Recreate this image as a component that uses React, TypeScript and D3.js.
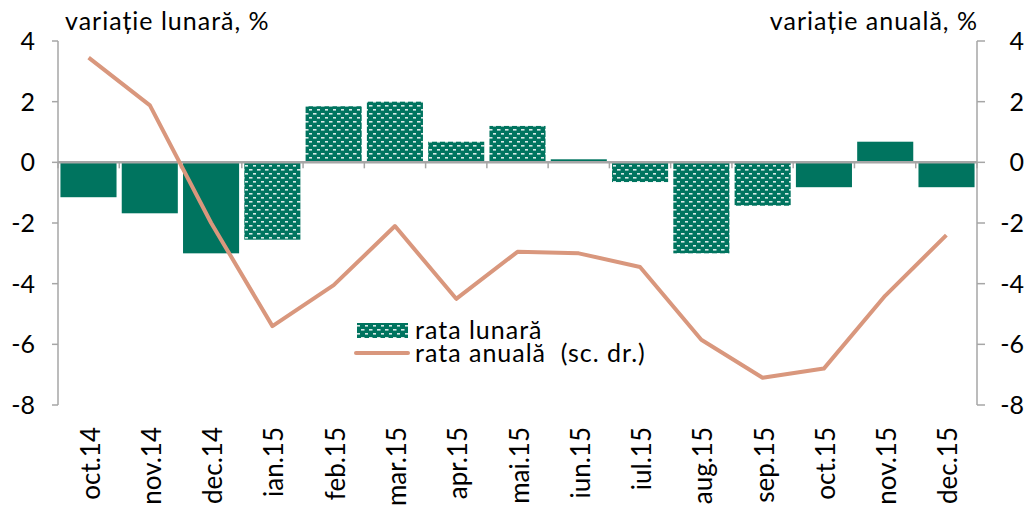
import React from "react";
import * as d3 from "d3";

const categories = ["oct.14","nov.14","dec.14","ian.15","feb.15","mar.15","apr.15","mai.15","iun.15","iul.15","aug.15","sep.15","oct.15","nov.15","dec.15"];
const monthlyRate = [-1.15, -1.68, -3.0, -2.55, 1.85, 2.0, 0.68, 1.2, 0.1, -0.65, -3.0, -1.43, -0.82, 0.68, -0.82];
const patterned = [false, false, false, true, true, true, true, true, true, true, true, true, false, false, false];
const annualRate = [3.45, 1.88, -2.0, -5.4, -4.05, -2.1, -4.5, -2.95, -3.0, -3.45, -5.85, -7.1, -6.8, -4.4, -2.4];
const leftTicks = [4, 2, 0, -2, -4, -6, -8];
const rightTicks = [4, 2, 0, -2, -4, -6, -8];

const W = 1034, H = 512;
const left = 58, right = 977, top = 41, bottom = 405;
const TEAL = "#00745F";
const SALMON = "#D9977D";
const AXIS = "#A6A6A6";
const FONT = "Lato, 'Open Sans', sans-serif";

export default function App() {
  const x = d3.scaleBand<string>().domain(categories).range([left, right]).paddingInner(0.085).paddingOuter(0.04);
  const xOuter = d3.scaleBand<string>().domain(categories).range([left, right]);
  const yL = d3.scaleLinear().domain([-8, 4]).range([bottom, top]);
  const yR = d3.scaleLinear().domain([-8, 4]).range([bottom, top]);
  const line = d3.line<number>()
    .x((_, i) => (xOuter(categories[i]) as number) + xOuter.bandwidth() / 2)
    .y((d) => yR(d));

  return (
    <svg width={W} height={H} style={{ position: "absolute", left: 0, top: 0, background: "#fff" }}>
      <defs>
        <pattern id="dots" patternUnits="userSpaceOnUse" width="8" height="8">
          <rect width="8" height="8" fill={TEAL} />
          <rect x="1" y="1" width="3.5" height="1.6" fill="#ffffff" opacity="0.85" />
          <rect x="5" y="5" width="3.5" height="1.6" fill="#ffffff" opacity="0.85" />
        </pattern>
      </defs>
      {/* bars */}
      {monthlyRate.map((v, i) => {
        const c = categories[i];
        const y0 = yL(0), y1 = yL(v);
        return (
          <rect key={c} x={x(c)} width={x.bandwidth()} y={Math.min(y0, y1)} height={Math.abs(y1 - y0)}
            fill={patterned[i] ? "url(#dots)" : TEAL} />
        );
      })}
      {/* axes */}
      <line x1={left} x2={left} y1={top} y2={bottom} stroke={AXIS} strokeWidth={1.5} />
      <line x1={right} x2={right} y1={top} y2={bottom} stroke={AXIS} strokeWidth={1.5} />
      {leftTicks.map((t) => (
        <g key={"l" + t}>
          <line x1={left - 6} x2={left} y1={yL(t)} y2={yL(t)} stroke={AXIS} strokeWidth={1.5} />
          <text x={35} y={yL(t)} dy="0.36em" textAnchor="end" fontFamily={FONT} fontSize={25} fill="#000">{t}</text>
        </g>
      ))}
      {rightTicks.map((t) => (
        <g key={"r" + t}>
          <line x1={right} x2={right + 8} y1={yR(t)} y2={yR(t)} stroke={AXIS} strokeWidth={1.5} />
          <text x={1024} y={yR(t)} dy="0.36em" textAnchor="end" fontFamily={FONT} fontSize={25} fill="#000">{t}</text>
        </g>
      ))}
      {/* zero axis with category ticks */}
      <line x1={left} x2={right} y1={yL(0)} y2={yL(0)} stroke={AXIS} strokeWidth={2.5} />
      {categories.map((c) => (
        <line key={"t" + c} x1={(xOuter(c) as number)} x2={(xOuter(c) as number)} y1={yL(0)} y2={yL(0) + 6} stroke={AXIS} strokeWidth={1.5} />
      ))}
      <line x1={right} x2={right} y1={yL(0)} y2={yL(0) + 6} stroke={AXIS} strokeWidth={1.5} />
      {/* annual line */}
      <path d={line(annualRate) || ""} fill="none" stroke={SALMON} strokeWidth={4} strokeLinejoin="round" />
      {/* x labels */}
      {categories.map((c) => {
        const cx = (xOuter(c) as number) + xOuter.bandwidth() / 2;
        return (
          <text key={"x" + c} transform={`translate(${cx + 11},427) rotate(-90)`} textAnchor="end"
            fontFamily={FONT} fontSize={26} fill="#000">{c}</text>
        );
      })}
      {/* axis titles */}
      <text x={65} y={30} fontFamily={FONT} fontSize={25} letterSpacing={1} fill="#000">variație lunară, %</text>
      <text x={978} y={30} textAnchor="end" fontFamily={FONT} fontSize={25} letterSpacing={1} fill="#000">variație anuală, %</text>
      {/* legend */}
      <rect x={357} y={323} width={51} height={15} fill="url(#dots)" />
      <text x={415} y={339} fontFamily={FONT} fontSize={25} letterSpacing={1} fill="#000">rata lunară</text>
      <line x1={356} x2={408} y1={353} y2={353} stroke={SALMON} strokeWidth={4} strokeLinecap="round" />
      <text x={415} y={362} fontFamily={FONT} fontSize={25} letterSpacing={1} fill="#000" style={{ whiteSpace: "pre" }}>rata anuală  (sc. dr.)</text>
    </svg>
  );
}
